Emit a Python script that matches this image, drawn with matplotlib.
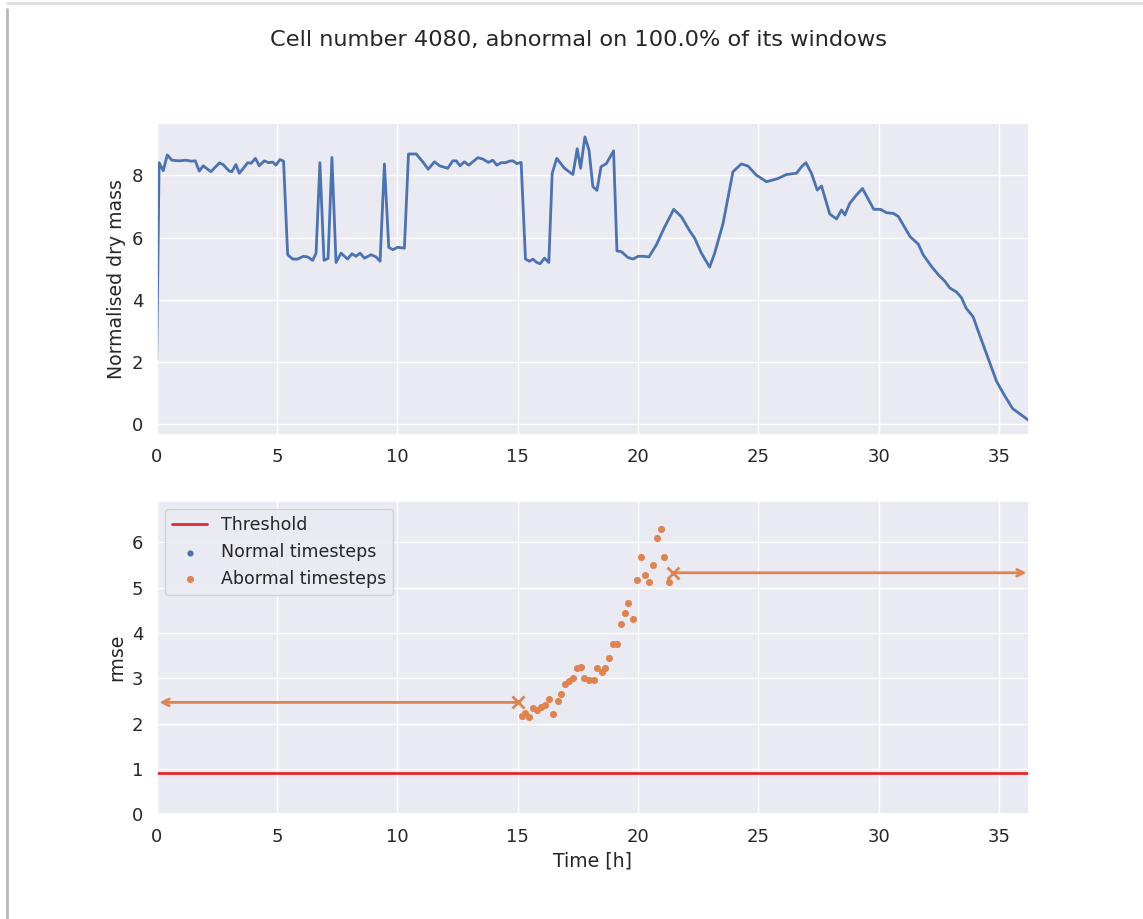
import numpy as np
import matplotlib
matplotlib.use("Agg")
import matplotlib.pyplot as plt
import seaborn as sns
from matplotlib.lines import Line2D

#------
#data
cell_id = 4080
abnormal_pct = 100.0

t_mass = [0.0, 0.10, 0.27, 0.44, 0.63, 0.94, 1.21, 1.42, 1.60, 1.77, 1.93, 2.25, 2.60, 2.76,
          3.01, 3.12, 3.29, 3.43, 3.60, 3.78, 3.92, 4.10, 4.26, 4.47, 4.65, 4.82, 4.95, 5.12,
          5.27, 5.44, 5.65, 5.86, 6.09, 6.27, 6.48, 6.62, 6.78, 6.95, 7.12, 7.28, 7.45, 7.66,
          7.93, 8.11, 8.28, 8.45, 8.63, 8.91, 9.11, 9.28, 9.46, 9.64, 9.81, 10.01, 10.29, 10.46,
          10.78, 11.05, 11.28, 11.54, 11.75, 12.09, 12.30, 12.44, 12.60, 12.78, 12.96, 13.34,
          13.54, 13.78, 13.96, 14.13, 14.31, 14.49, 14.66, 14.80, 14.96, 15.14, 15.32, 15.49,
          15.63, 15.79, 15.93, 16.11, 16.29, 16.43, 16.62, 16.94, 17.29, 17.47, 17.61, 17.79,
          17.96, 18.12, 18.29, 18.46, 18.68, 18.98, 19.12, 19.30, 19.58, 19.79, 20.00, 20.20,
          20.45, 20.76, 21.10, 21.48, 21.80, 22.14, 22.35, 22.63, 22.97, 23.18, 23.53, 23.94,
          24.29, 24.57, 24.91, 25.33, 25.58, 25.81, 26.16, 26.58, 26.79, 26.97, 27.20, 27.44,
          27.62, 27.96, 28.24, 28.45, 28.59, 28.79, 29.07, 29.32, 29.79, 30.07, 30.32, 30.60,
          30.81, 31.30, 31.64, 31.84, 32.19, 32.47, 32.75, 32.95, 33.23, 33.44, 33.62, 33.92,
          34.13, 34.41, 34.89, 35.24, 35.56, 35.84, 36.25]
mass = [2.08, 8.41, 8.15, 8.66, 8.49, 8.47, 8.49, 8.46, 8.47, 8.14, 8.31, 8.12, 8.40, 8.35,
        8.14, 8.12, 8.35, 8.07, 8.23, 8.41, 8.39, 8.55, 8.31, 8.47, 8.41, 8.43, 8.33, 8.51,
        8.46, 5.45, 5.31, 5.31, 5.40, 5.38, 5.27, 5.50, 8.41, 5.27, 5.33, 8.58, 5.20, 5.50,
        5.31, 5.48, 5.40, 5.50, 5.34, 5.45, 5.38, 5.24, 8.37, 5.69, 5.61, 5.69, 5.66, 8.69,
        8.69, 8.44, 8.20, 8.44, 8.31, 8.23, 8.47, 8.47, 8.31, 8.44, 8.33, 8.57,
        8.53, 8.42, 8.49, 8.33, 8.41, 8.41, 8.46, 8.47, 8.38, 8.42, 5.31, 5.24,
        5.31, 5.20, 5.16, 5.34, 5.20, 8.07, 8.55, 8.23, 8.03, 8.86, 8.23, 9.24,
        8.81, 7.64, 7.52, 8.28, 8.38, 8.79, 5.57, 5.55, 5.36, 5.31, 5.40, 5.40,
        5.38, 5.77, 6.34, 6.91, 6.67, 6.22, 5.98, 5.50, 5.05, 5.50, 6.46, 8.12,
        8.37, 8.30, 8.01, 7.80, 7.85, 7.90, 8.03, 8.07, 8.28, 8.41, 8.07, 7.53,
        7.66, 6.76, 6.60, 6.89, 6.73, 7.10, 7.37, 7.58, 6.91, 6.91, 6.80, 6.78,
        6.68, 6.03, 5.79, 5.45, 5.07, 4.81, 4.59, 4.38, 4.25, 4.06, 3.74, 3.45,
        2.99, 2.40, 1.38, 0.90, 0.50, 0.34, 0.11]

t_abn = [15.18, 15.32, 15.48, 15.62, 15.81, 15.98, 16.14, 16.28, 16.47, 16.67, 16.80, 16.97,
         17.13, 17.30, 17.47, 17.63, 17.77, 17.96, 18.15, 18.29, 18.48, 18.62, 18.79, 18.95,
         19.12, 19.28, 19.45, 19.59, 19.78, 19.97, 20.11, 20.28, 20.44, 20.61, 20.77, 20.96,
         21.07, 21.27]
rmse_abn = [2.18, 2.23, 2.14, 2.34, 2.31, 2.37, 2.42, 2.55, 2.21, 2.49, 2.66, 2.88,
            2.94, 3.01, 3.23, 3.26, 3.00, 2.97, 2.97, 3.22, 3.13, 3.22, 3.44, 3.76,
            3.76, 4.19, 4.44, 4.66, 4.30, 5.16, 5.68, 5.29, 5.13, 5.50, 6.09, 6.29,
            5.68, 5.12]
t_normal = []
rmse_normal = []

threshold = 0.92
t_end = 36.25
# mean rmse of the windows before / after the abnormal stretch
win_before = (15.03, 2.47)
win_after = (21.43, 5.33)

#------
#plot
sns.set_theme(style="darkgrid")
plt.rcParams['font.family'] = ['DejaVu Sans']
blue, orange = sns.color_palette("deep")[:2]

fig = plt.figure(figsize=(11.43, 9.19), dpi=100)
ax1 = fig.add_axes([0.1371, 0.5267, 0.7634, 0.3398])
ax2 = fig.add_axes([0.1371, 0.1139, 0.7634, 0.3412])

ax1.plot(t_mass, mass, color=blue, lw=2.0)
ax1.set_xlim(0, t_end)
ax1.set_ylabel("Normalised dry mass", fontsize=13.6)

ax2.axhline(threshold, color='#e0282e', lw=2.0, label="Threshold")
ax2.scatter(t_normal, rmse_normal, color=blue, s=20, lw=0, label="Normal timesteps")
ax2.scatter(t_abn, rmse_abn, color=orange, s=26, lw=0, label="Abormal timesteps")

ax2.annotate("", xy=(0, win_before[1]), xytext=win_before,
             arrowprops=dict(arrowstyle="->", color=orange, lw=2.0))
ax2.annotate("", xy=(t_end, win_after[1]), xytext=win_after,
             arrowprops=dict(arrowstyle="->", color=orange, lw=2.0))
ax2.plot(*win_before, marker='x', color=orange, ms=8, mew=2)
ax2.plot(*win_after, marker='x', color=orange, ms=8, mew=2)

ax2.set_xlim(0, t_end)
ax2.set_ylim(0, 1.1 * max(rmse_abn))
ax2.set_ylabel("rmse", fontsize=13.6)
ax2.set_xlabel("Time [h]", fontsize=13.6)
ax2.legend(loc="upper left", fontsize=12.5)

for ax in (ax1, ax2):
    ax.tick_params(labelsize=13)

fig.suptitle(f"Cell number {cell_id}, abnormal on {abnormal_pct}% of its windows",
             x=0.506, y=0.956, va='center', fontsize=16.2, color='#262626')

# shadow edge of the frame
fig.add_artist(Line2D([0.0065, 0.0065], [0.0, 0.99], color='#9a9a9a', lw=2.0, alpha=0.7))
fig.add_artist(Line2D([0.006, 1.0], [0.997, 0.997], color='#c8c8c8', lw=2.0, alpha=0.6))

fig.savefig("out.png", dpi=100)
